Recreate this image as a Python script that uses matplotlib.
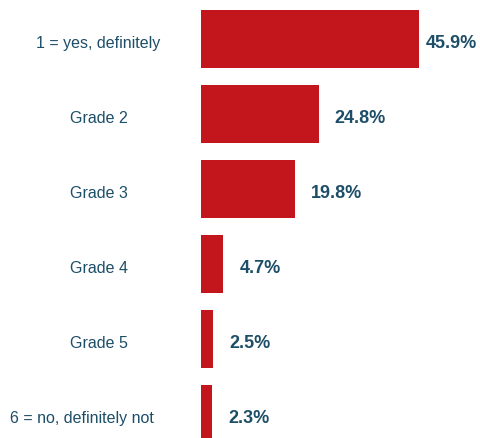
import matplotlib.pyplot as plt
import numpy as np

# Survey answers, top to bottom
categories = ['1 = yes, definitely', 'Grade 2', 'Grade 3', 'Grade 4',
              'Grade 5', '6 = no, definitely not']
shares = [45.9, 24.8, 19.8, 4.7, 2.5, 2.3]

bar_color = '#C2161C'
text_color = '#1D4E68'

plt.rcParams['font.family'] = ['Liberation Sans', 'DejaVu Sans']

fig = plt.figure(figsize=(4.8, 4.39), dpi=100)
ax = fig.add_axes([201 / 480, 0, 279 / 480, 1])

y = np.arange(len(categories))
ax.barh(y, shares, height=0.775, color=bar_color)

ax.set_xlim(0, 279 / 4.75)
ax.set_ylim(5.324, -0.529)
ax.axis('off')

# value labels right of each bar (the longest one sits closer to fit)
for yi, val in zip(y, shares):
    gap = 1.47 if yi == 0 else 3.37
    ax.text(val + gap, yi + 0.107, f'{val:.1f}%', va='baseline', ha='left',
            fontsize=13, fontweight='bold', color=text_color)

# category labels in the left margin
for yi, name in zip(y, categories):
    xc = 98.5 if yi < len(categories) - 1 else 81.5
    ax.text(xc / 480, 1 - (47.7 + 75 * yi) / 439, name,
            transform=fig.transFigure, ha='center', va='baseline',
            fontsize=11.5, color=text_color)

fig.savefig('out.png', dpi=100)
